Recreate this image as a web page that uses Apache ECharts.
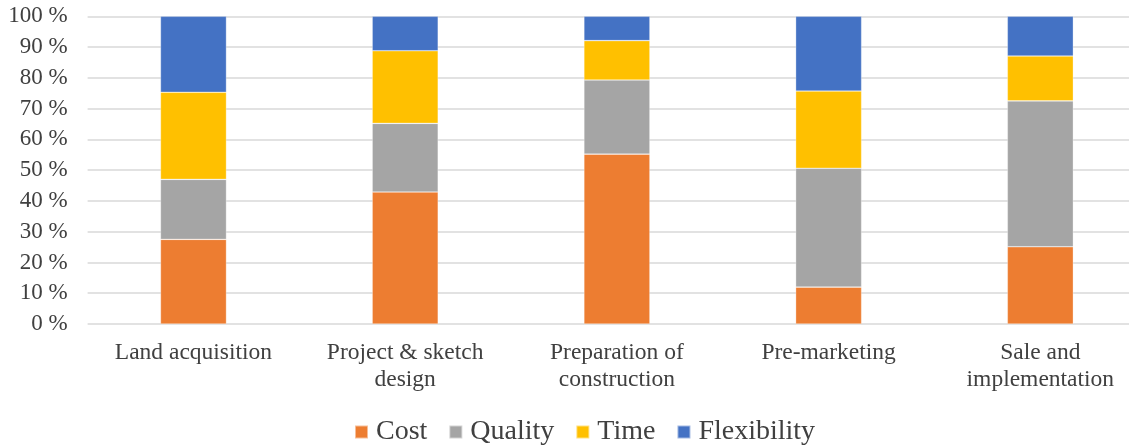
<!DOCTYPE html>
<html>
<head>
<meta charset="utf-8">
<script src="https://cdn.jsdelivr.net/npm/echarts@6/dist/echarts.min.js"></script>
<style>
  html, body { margin: 0; padding: 0; background: #fff; overflow: hidden; }
  #chart { width: 1150px; height: 446px; }
</style>
</head>
<body>
<div id="chart"></div>
<script>
// Development phases along the x axis
const categories = [
  'Land acquisition',
  'Project & sketch\ndesign',
  'Preparation of\nconstruction',
  'Pre-marketing',
  'Sale and\nimplementation'
];

// Share of each criterion per phase (percent, stacks to 100)
const cost        = [27.5, 42.9, 55.2, 12.0, 25.1];
const quality     = [19.5, 22.3, 24.1, 38.6, 47.4];
const time        = [28.3, 23.6, 12.8, 25.1, 14.6];
const flexibility = [24.7, 11.2,  7.9, 24.3, 12.9];

const yTicks = { min: 0, max: 100, interval: 10 };

const seriesDefs = [
  { name: 'Cost', data: cost, color: '#ED7D31' },
  { name: 'Quality', data: quality, color: '#A5A5A5' },
  { name: 'Time', data: time, color: '#FFC000' },
  { name: 'Flexibility', data: flexibility, color: '#4472C4' }
];

const textColor = '#404040';
const font = '"Liberation Serif", "Times New Roman", serif';

const chart = echarts.init(document.getElementById('chart'), null, { renderer: 'canvas' });
chart.setOption({
  animation: false,
  // the plot runs past the right edge of the visible window
  grid: { left: 87.6, top: 16.3, right: 3.8, bottom: 122, containLabel: false },
  legend: {
    top: 413,
    left: 349,
    itemWidth: 13,
    itemHeight: 13,
    itemGap: 21,
    icon: 'rect',
    textStyle: { fontFamily: font, fontSize: 28, color: textColor, padding: [0, 0, 0, 3] },
    data: seriesDefs.map(s => s.name)
  },
  xAxis: {
    type: 'category',
    data: categories,
    axisLine: { show: false },
    axisTick: { show: false },
    axisLabel: {
      fontFamily: font, fontSize: 23.5, color: textColor,
      lineHeight: 27, margin: 15, interval: 0
    }
  },
  yAxis: {
    type: 'value',
    min: yTicks.min, max: yTicks.max, interval: yTicks.interval,
    axisLine: { show: false },
    axisTick: { show: false },
    splitLine: { lineStyle: { color: '#D9D9D9', width: 1.5 } },
    axisLabel: {
      formatter: '{value} %',
      fontFamily: font, fontSize: 23, color: textColor, margin: 20
    }
  },
  series: seriesDefs.map(s => ({
    name: s.name,
    type: 'bar',
    stack: 'total',
    barWidth: 66,
    data: s.data,
    itemStyle: { color: s.color, borderColor: 'rgba(255,255,255,0.5)', borderWidth: 0.6 }
  }))
});
</script>
</body>
</html>
